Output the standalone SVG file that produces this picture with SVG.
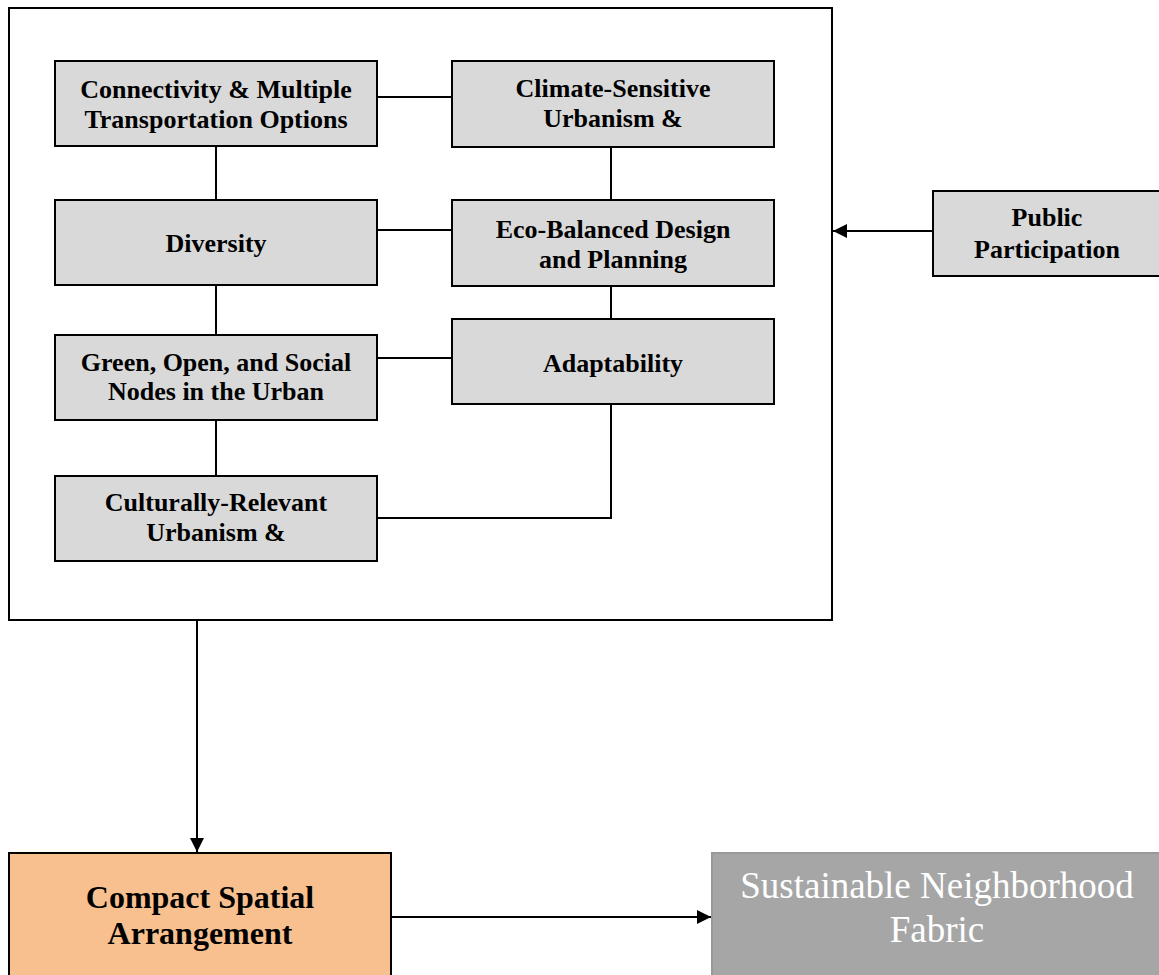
<svg xmlns="http://www.w3.org/2000/svg" width="1159" height="975" viewBox="0 0 1159 975">
<defs>
<marker id="arr" viewBox="0 0 10 10" refX="10" refY="5" markerWidth="14" markerHeight="14" markerUnits="userSpaceOnUse" orient="auto"><path d="M0,0 L10,5 L0,10 z" fill="#000"/></marker>
</defs>
<style>
.box{fill:#D9D9D9;stroke:#000;stroke-width:2}
.t{font-family:"Liberation Serif","Times New Roman",serif;font-weight:bold;font-size:26px;fill:#000;text-anchor:middle}
.c{fill:none;stroke:#000;stroke-width:2}
</style>
<rect id="frame" x="9" y="8" width="823" height="612" fill="#fff" stroke="#000" stroke-width="2"/>
<g id="connectors">
<line class="c" x1="377" y1="97" x2="452" y2="97"/>
<line class="c" x1="377" y1="230" x2="452" y2="230"/>
<line class="c" x1="377" y1="358" x2="452" y2="358"/>
<polyline class="c" points="377,518 611,518 611,404"/>
<line class="c" x1="216" y1="146" x2="216" y2="200"/>
<line class="c" x1="216" y1="285" x2="216" y2="335"/>
<line class="c" x1="216" y1="420" x2="216" y2="476"/>
<line class="c" x1="611" y1="147" x2="611" y2="200"/>
<line class="c" x1="611" y1="286" x2="611" y2="319"/>
<line class="c" x1="933" y1="231" x2="833" y2="231" marker-end="url(#arr)"/>
<line class="c" x1="197" y1="621" x2="197" y2="852" marker-end="url(#arr)"/>
<line class="c" x1="391" y1="917" x2="711" y2="917" marker-end="url(#arr)"/>
</g>
<g id="n1"><rect class="box" x="55" y="61" width="322" height="85"/><text class="t" x="216" y="98">Connectivity &amp; Multiple</text><text class="t" x="216" y="128">Transportation Options</text></g>
<g id="n2"><rect class="box" x="452" y="61" width="322" height="86"/><text class="t" x="613" y="97">Climate-Sensitive</text><text class="t" x="613" y="127">Urbanism &amp;</text></g>
<g id="n3"><rect class="box" x="55" y="200" width="322" height="85"/><text class="t" x="216" y="252">Diversity</text></g>
<g id="n4"><rect class="box" x="452" y="200" width="322" height="86"/><text class="t" x="613" y="238">Eco-Balanced Design</text><text class="t" x="613" y="268">and Planning</text></g>
<g id="n5"><rect class="box" x="55" y="335" width="322" height="85"/><text class="t" x="216" y="371">Green, Open, and Social</text><text class="t" x="216" y="400">Nodes in the Urban</text></g>
<g id="n6"><rect class="box" x="452" y="319" width="322" height="85"/><text class="t" x="613" y="372">Adaptability</text></g>
<g id="n7"><rect class="box" x="55" y="476" width="322" height="85"/><text class="t" x="216" y="511">Culturally-Relevant</text><text class="t" x="216" y="541">Urbanism &amp;</text></g>
<g id="n8"><rect class="box" x="933" y="191" width="228" height="85"/><text class="t" x="1047" y="226">Public</text><text class="t" x="1047" y="258">Participation</text></g>
<g id="n9"><rect x="9" y="853" width="382" height="130" fill="#F8C08F" stroke="#000" stroke-width="2"/><text class="t" x="200" y="908" style="font-size:32px">Compact Spatial</text><text class="t" x="200" y="944" style="font-size:32px">Arrangement</text></g>
<g id="n10"><rect x="712" y="853" width="450" height="130" fill="#A6A6A6" stroke="#999" stroke-width="2"/><text x="937" y="898" font-family="Liberation Serif, Times New Roman, serif" font-size="37" fill="#fff" text-anchor="middle">Sustainable Neighborhood</text><text x="937" y="942" font-family="Liberation Serif, Times New Roman, serif" font-size="37" fill="#fff" text-anchor="middle">Fabric</text></g>
</svg>
